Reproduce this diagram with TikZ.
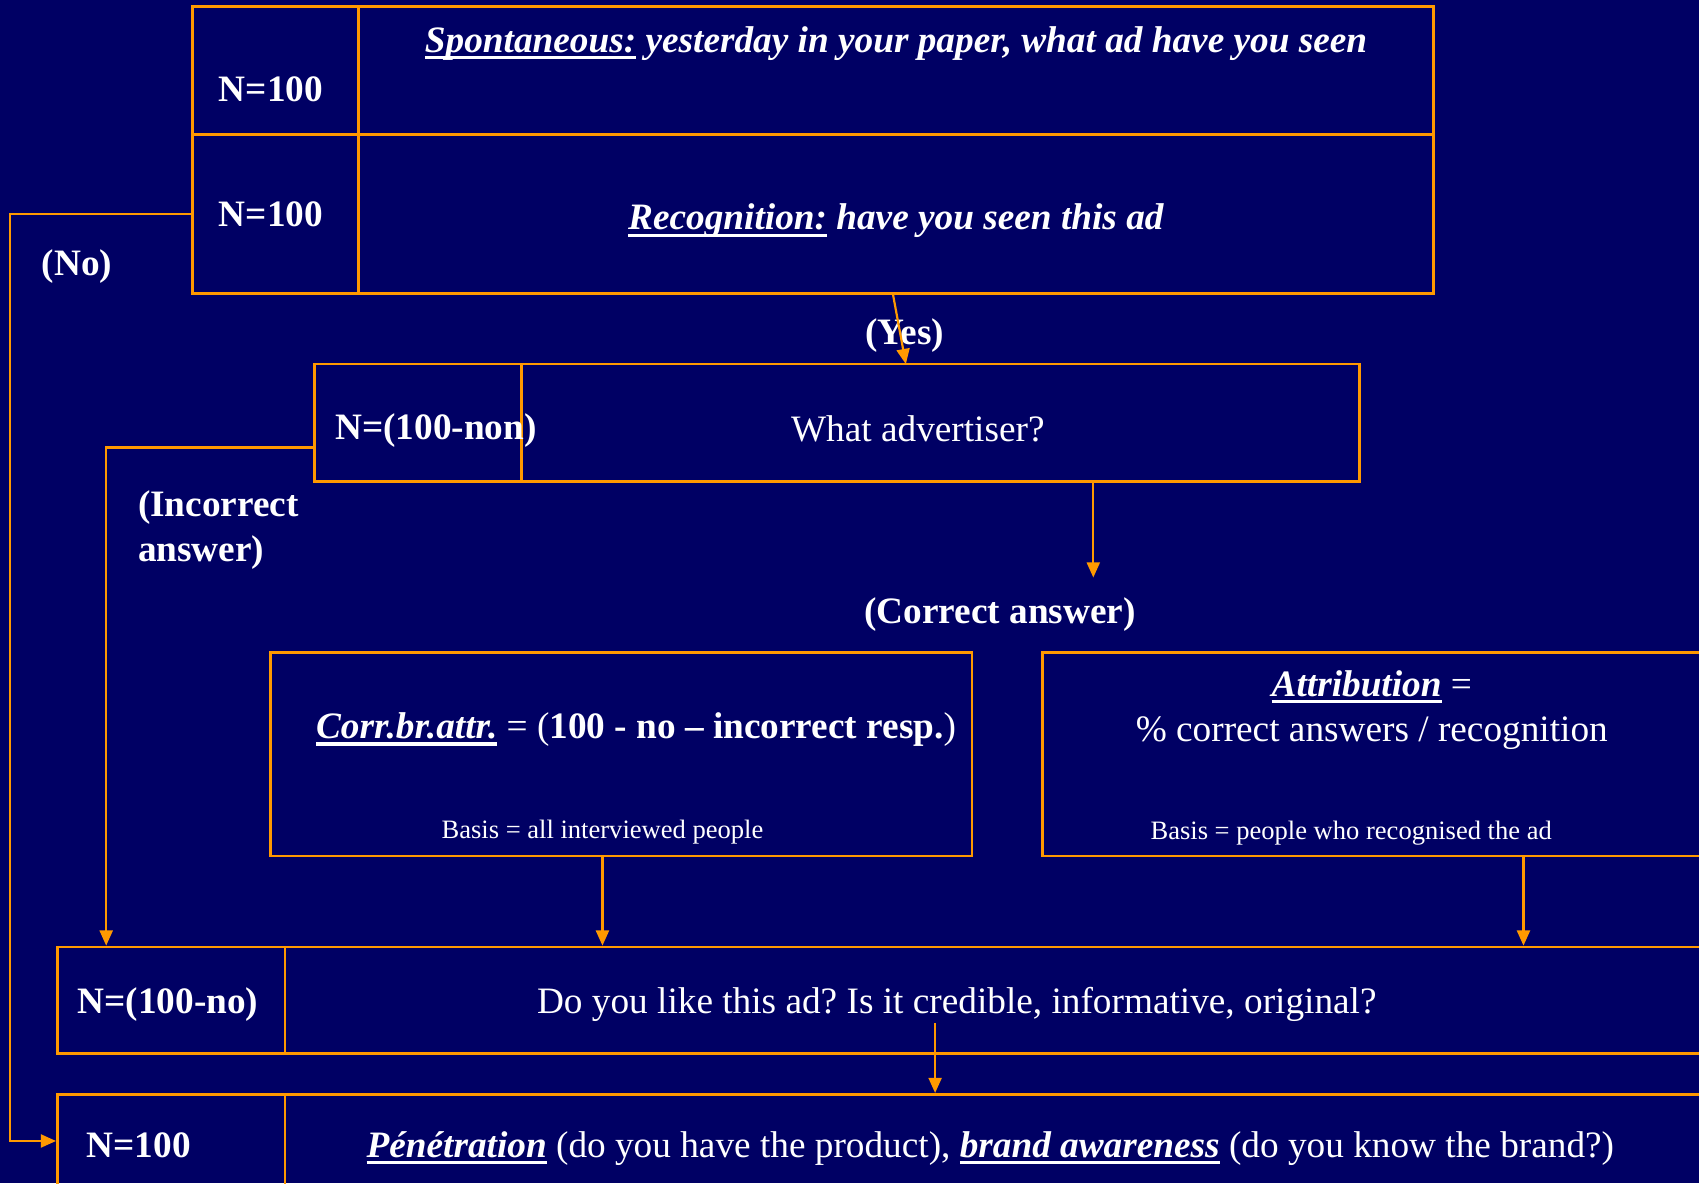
\documentclass[tikz,border=0pt]{standalone}
\usepackage{fontspec}
\setmainfont{Liberation Serif}
\usetikzlibrary{arrows.meta}
\definecolor{navy}{RGB}{0,0,100}
\definecolor{orng}{RGB}{255,153,0}
\newcommand{\myul}[1]{\setbox0=\hbox{#1}\rlap{\rule[-0.19em]{\wd0}{0.085em}}\box0\relax}
\frenchspacing
\begin{document}
\begin{tikzpicture}[x=0.5pt,y=-0.5pt,
  cell/.style={draw=orng,line width=1.3pt,inner sep=0pt,rectangle},
  txt/.style={text=white,font=\fontsize{17.2}{21}\selectfont,inner sep=0pt,anchor=base},
  small/.style={text=white,font=\fontsize{12.25}{14}\selectfont,inner sep=0pt,anchor=base},
  conn/.style={draw=orng,line width=1pt},
  arr/.style={conn,-{Triangle[length=7pt,width=6pt]}}]
\useasboundingbox (0,0) rectangle (1568,1092);
\clip (0,0) rectangle (1568,1092);
\fill[navy] (0,0) rectangle (1568,1092);

% cells
\node[cell,minimum width=76.5pt,minimum height=59pt] (nA) at (254.5,65) {};
\node[cell,minimum width=496pt,minimum height=59pt] (sA) at (827,65) {};
\node[cell,minimum width=76.5pt,minimum height=73.5pt] (nB) at (254.5,197.5) {};
\node[cell,minimum width=496pt,minimum height=73.5pt] (rB) at (827,197.5) {};
\node[cell,minimum width=95.5pt,minimum height=54pt] (nC) at (385.5,390) {};
\node[cell,minimum width=387pt,minimum height=54pt] (wC) at (868,390) {};
\node[cell,minimum width=323.5pt,minimum height=94pt] (corr) at (573.5,696) {};
\node[cell,minimum width=319pt,minimum height=94pt] (attr) at (1281,696) {};
\node[cell,minimum width=105pt,minimum height=49pt] (nD) at (158,923) {};
\node[cell,minimum width=678.5pt,minimum height=49pt] (dD) at (941.5,923) {};
\node[cell,minimum width=105pt,minimum height=55pt] (nE) at (158,1065) {};
\node[cell,minimum width=678.5pt,minimum height=55pt] (pE) at (941.5,1065) {};

% texts
\node[txt] (tN1) at (250,94) {\textbf{N=100}};
\node[txt] (tS) at (827,48) {\textbf{\textit{\myul{Spontaneous:} yesterday in your paper, what ad have you seen}}};
\node[txt] (tN2) at (250,209) {\textbf{N=100}};
\node[txt] (tR) at (827,212) {\textbf{\textit{\myul{Recognition:} have you seen this ad}}};
\node[txt] (tNo) at (71,254) {\textbf{(No)}};
\node[txt] (tYes) at (835,318) {\textbf{(Yes)}};
\node[txt,anchor=base west] (tN3) at (309,406) {\textbf{N=(100-non)}};
\node[txt] (tW) at (847,407.6) {What advertiser?};
\node[txt,anchor=base west] (tInc1) at (127,477) {\textbf{(Incorrect}};
\node[txt,anchor=base west] (tInc2) at (127,518) {\textbf{answer)}};
\node[txt] (tCor) at (923,575) {\textbf{(Correct answer)}};
\node[txt] (tCorr) at (587,681.6) {\textbf{\textit{\myul{Corr.br.attr.}}} = (\textbf{100 - no – incorrect resp.})};
\node[small] (tB1) at (556,774) {Basis = all interviewed people};
\node[txt] (tAt1) at (1266,642.5) {\textbf{\textit{\myul{Attribution}}} =};
\node[txt] (tAt2) at (1266,684) {\% correct answers / recognition};
\node[small] (tB2) at (1247,775) {Basis = people who recognised the ad};
\node[txt] (tN4) at (155,935) {\textbf{N=(100-no)}};
\node[txt] (tD) at (883,935) {Do you like this ad? Is it credible, informative, original?};
\node[txt] (tN5) at (128,1068) {\textbf{N=100}};
\node[txt] (tP) at (914,1068) {\textbf{\textit{\myul{Pénétration}}} (do you have the product), \textbf{\textit{\myul{brand awareness}}} (do you know the brand?)};

% connector points
\coordinate (no1) at (9,197.5);
\coordinate (no2) at (9,1053);
\coordinate (yesS) at (824,271);
\coordinate (yesE) at (836,336);
\coordinate (incS) at (290,413);
\coordinate (inc1) at (98,413);
\coordinate (corS) at (1009,444);
\coordinate (corE) at (1009,533);
\coordinate (c1) at (556,790);
\coordinate (a1) at (1406,790);
\coordinate (d1) at (863,944);

% connectors
\draw[arr] (nB.west) -- (no1) -- (no2) -- (no2 -| nE.west);
\draw[arr] (yesS) -- (yesE);
\draw[arr] (incS) -- (inc1) -- (inc1 |- nD.north);
\draw[arr] (corS) -- (corE);
\draw[arr] (c1) -- (c1 |- dD.north);
\draw[arr] (a1) -- (a1 |- dD.north);
\draw[arr] (d1) -- (d1 |- pE.north);
\end{tikzpicture}
\end{document}
